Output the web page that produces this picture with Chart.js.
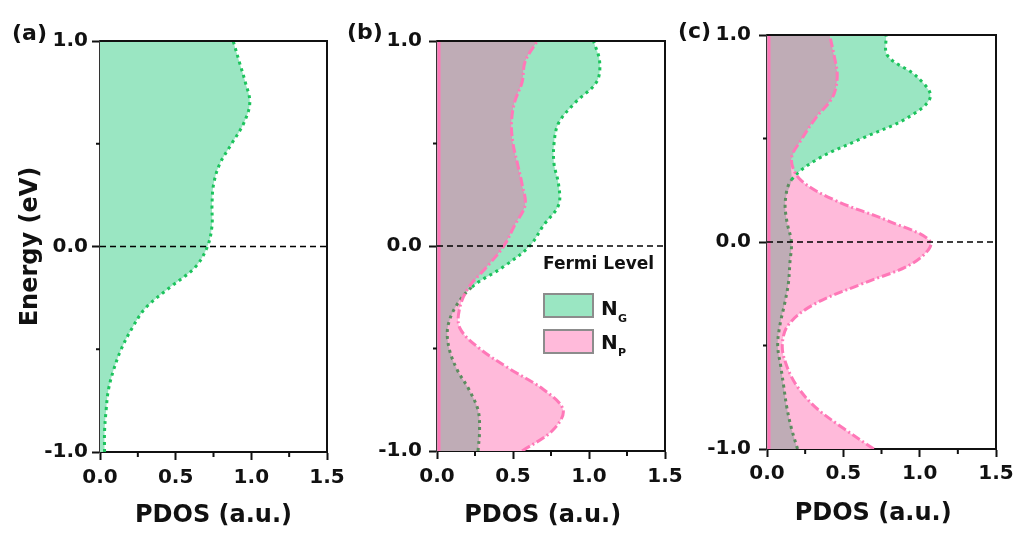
<!DOCTYPE html>
<html>
<head>
<meta charset="utf-8">
<script src="https://cdn.jsdelivr.net/npm/chart.js@4.4.1/dist/chart.umd.min.js"></script>
<style>
    body { margin: 0; background: #fff; width: 1015px; height: 534px; position: relative; overflow: hidden; font-family: 'DejaVu Sans', sans-serif; }
    canvas { position: absolute; top: 0; }
    .lbl { position: absolute; font-weight: bold; color: #111; white-space: nowrap; }
    .box { position: absolute; box-sizing: border-box; border: 2px solid #8c8c8c; width: 51px; height: 25px; }
</style>
</head>
<body>
<canvas id="chartA" width="351" height="534" style="left:0px"></canvas>
<canvas id="chartB" width="352" height="534" style="left:337px"></canvas>
<canvas id="chartC" width="353" height="534" style="left:667px"></canvas>

<div class="lbl" style="left:12px;top:22px;font-size:22px;line-height:22px">(a)</div>
<div class="lbl" style="left:347px;top:21px;font-size:22px;line-height:22px">(b)</div>
<div class="lbl" style="left:678px;top:20px;font-size:22px;line-height:22px">(c)</div>

<div class="lbl" style="left:543px;top:255px;font-size:17px;line-height:17px">Fermi Level</div>
<div class="box" style="left:543px;top:293px;background:#9ae6c2"></div>
<div class="box" style="left:543px;top:329px;background:#ffbada"></div>
<div class="lbl" style="left:601px;top:298px;font-size:20px;line-height:20px">N</div>
<div class="lbl" style="left:618px;top:313px;font-size:11px;line-height:11px">G</div>
<div class="lbl" style="left:601px;top:332px;font-size:20px;line-height:20px">N</div>
<div class="lbl" style="left:618px;top:347px;font-size:11px;line-height:11px">P</div>

<script>
// energy grid (eV), bottom to top
const energy = [-1.0, -0.9, -0.8, -0.7, -0.6, -0.5, -0.4, -0.3, -0.2, -0.1, 0.0,
                0.1, 0.2, 0.3, 0.4, 0.5, 0.6, 0.7, 0.8, 0.9, 1.0];

// PDOS
const greenA = [0.03, 0.03, 0.04, 0.055, 0.09, 0.14, 0.21, 0.30, 0.46, 0.63, 0.71,
                0.74, 0.74, 0.75, 0.79, 0.87, 0.95, 0.99, 0.96, 0.92, 0.88];

const greenB = [0.27, 0.28, 0.27, 0.21, 0.13, 0.08, 0.07, 0.12, 0.23, 0.44, 0.61,
                0.70, 0.80, 0.80, 0.77, 0.77, 0.80, 0.91, 1.05, 1.07, 1.03];
const pinkB  = [0.56, 0.76, 0.83, 0.70, 0.48, 0.28, 0.15, 0.15, 0.21, 0.33, 0.44,
                0.51, 0.58, 0.56, 0.53, 0.50, 0.49, 0.51, 0.56, 0.58, 0.66];

const greenC = [0.20, 0.16, 0.13, 0.11, 0.09, 0.07, 0.085, 0.115, 0.14, 0.15, 0.16,
                0.13, 0.12, 0.16, 0.33, 0.62, 0.92, 1.07, 0.98, 0.79, 0.78];
const pinkC  = [0.70, 0.50, 0.32, 0.20, 0.13, 0.10, 0.14, 0.31, 0.63, 0.96, 1.07,
                0.80, 0.45, 0.22, 0.16, 0.23, 0.32, 0.43, 0.46, 0.44, 0.41];

const fermiLevel = 0;
const xTickLabels = ['0.0', '0.5', '1.0', '1.5'];
const yTickLabels = ['-1.0', '0.0', '1.0'];

const greenFill = '#9ae6c2';
const pinkFill = '#ffbada';
const overlapFill = '#bfacb6';
const greenLine = '#1cc35c';
const greenLineDark = '#5b8c5e';
const pinkLine = '#ff78b8';
const axisColor = '#111';
const fontFamily = "'DejaVu Sans', sans-serif";

function pts(vals) {
    return vals.map((v, i) => ({ x: v, y: energy[i] }));
}

function isMajor(v) {
    return Math.abs(v * 2 - Math.round(v * 2)) < 1e-6;
}

function makeDatasets(green, pink) {
    const sets = [];
    if (pink) {
        sets.push({
            label: 'overlap',
            data: pts(green.map((g, i) => Math.min(g, pink[i]))),
            backgroundColor: overlapFill,
            borderWidth: 0,
            fill: 'origin'
        });
        sets.push({
            label: 'NP',
            data: pts(pink),
            backgroundColor: pinkFill,
            borderColor: pinkLine,
            borderWidth: 3,
            borderDash: [9, 3, 2, 3],
            fill: 'origin'
        });
    }
    sets.push({
        label: 'NG',
        data: pts(green),
        backgroundColor: greenFill,
        borderColor: greenLine,
        borderWidth: 3,
        borderDash: [3, 4],
        fill: 'origin',
        segment: {
            borderColor: ctx => {
                if (!pink) return greenLine;
                const i0 = ctx.p0DataIndex, i1 = ctx.p1DataIndex;
                return (green[i0] + green[i1]) < (pink[i0] + pink[i1]) ? greenLineDark : greenLine;
            }
        }
    });
    return sets;
}

const framePlugin = {
    id: 'frame',
    afterDatasetsDraw(chart, args, opts) {
        const { ctx, chartArea: a, scales: { x, y } } = chart;
        ctx.save();
        if (opts.pinkEdge) {
            const px = x.getPixelForValue(0) + 2;
            ctx.strokeStyle = pinkLine;
            ctx.lineWidth = 3;
            ctx.beginPath();
            ctx.moveTo(px, a.top);
            ctx.lineTo(px, a.bottom);
            ctx.stroke();
        }
        // Fermi level
        const fy = y.getPixelForValue(fermiLevel);
        ctx.setLineDash([6, 4]);
        ctx.strokeStyle = '#000';
        ctx.lineWidth = 1.5;
        ctx.beginPath();
        ctx.moveTo(a.left, fy);
        ctx.lineTo(a.right, fy);
        ctx.stroke();
        ctx.setLineDash([]);
        // top and right frame
        ctx.strokeStyle = axisColor;
        ctx.lineWidth = 2;
        ctx.beginPath();
        ctx.moveTo(a.left, a.top);
        ctx.lineTo(a.right, a.top);
        ctx.lineTo(a.right, a.bottom + 1);
        ctx.stroke();
        // minor ticks
        ctx.beginPath();
        [-0.5, 0.5].forEach(v => {
            const py = y.getPixelForValue(v);
            ctx.moveTo(a.left - 4, py);
            ctx.lineTo(a.left, py);
        });
        [0.25, 0.75, 1.25].forEach(v => {
            const px = x.getPixelForValue(v);
            ctx.moveTo(px, a.bottom);
            ctx.lineTo(px, a.bottom + 5);
        });
        ctx.stroke();
        ctx.restore();
    }
};

function makeChart(id, green, pink, cfg) {
    const tickFont = { family: fontFamily, size: 20, weight: 'bold' };
    const titleFont = { family: fontFamily, size: 24, weight: 'bold' };
    return new Chart(document.getElementById(id), {
        type: 'line',
        data: { datasets: makeDatasets(green, pink) },
        plugins: [framePlugin],
        options: {
            responsive: false,
            animation: false,
            indexAxis: 'y',
            layout: { padding: { left: 0, right: cfg.padRight, top: cfg.padTop, bottom: 0 } },
            elements: {
                point: { radius: 0 },
                line: { tension: 0.35 }
            },
            plugins: {
                legend: { display: false },
                tooltip: { enabled: false },
                filler: { drawTime: 'beforeDatasetsDraw' },
                frame: { pinkEdge: !!pink }
            },
            scales: {
                x: {
                    type: 'linear',
                    position: 'bottom',
                    min: 0,
                    max: 1.5,
                    z: 1,
                    border: { color: axisColor, width: 2 },
                    grid: {
                        drawOnChartArea: false,
                        tickLength: 8,
                        tickWidth: 2,
                        tickColor: ctx => (ctx.tick && isMajor(ctx.tick.value)) ? axisColor : 'transparent'
                    },
                    ticks: {
                        stepSize: 0.25,
                        autoSkip: false,
                        maxRotation: 0,
                        padding: cfg.xTickPad,
                        color: axisColor,
                        font: tickFont,
                        callback: v => isMajor(v) ? xTickLabels[Math.round(v * 2)] : ''
                    },
                    title: {
                        display: true,
                        text: cfg.xTitle,
                        color: axisColor,
                        font: titleFont,
                        padding: { top: 0, bottom: cfg.xTitlePad }
                    },
                    afterFit: s => { s.height = cfg.xHeight; }
                },
                y: {
                    type: 'linear',
                    position: 'left',
                    min: -1,
                    max: 1,
                    z: 1,
                    border: { color: '#333', width: 1.5, dash: [6, 4] },
                    grid: {
                        drawOnChartArea: false,
                        tickLength: 8,
                        tickWidth: 2,
                        tickColor: ctx => (ctx.tick && Number.isInteger(ctx.tick.value)) ? axisColor : 'transparent'
                    },
                    ticks: {
                        stepSize: 0.5,
                        autoSkip: false,
                        padding: cfg.yTickPad,
                        color: axisColor,
                        font: tickFont,
                        callback: v => Number.isInteger(v) ? yTickLabels[v + 1] : ''
                    },
                    title: {
                        display: cfg.yTitle !== '',
                        text: cfg.yTitle,
                        color: axisColor,
                        font: titleFont,
                        padding: { top: 16, bottom: 0 }
                    },
                    afterFit: s => { s.width = 100; }
                }
            }
        }
    });
}

makeChart('chartA', greenA, null, {
    padRight: 24, padTop: 41, xHeight: 82, xTickPad: 6, xTitlePad: 4, yTickPad: 4,
    xTitle: 'PDOS (a.u.)', yTitle: 'Energy (eV)'
});
makeChart('chartB', greenB, pinkB, {
    padRight: 24, padTop: 41, xHeight: 83, xTickPad: 6, xTitlePad: 4, yTickPad: 7,
    xTitle: 'PDOS (a.u.)  ', yTitle: ''
});
makeChart('chartC', greenC, pinkC, {
    padRight: 24, padTop: 35, xHeight: 85, xTickPad: 5, xTitlePad: 6, yTickPad: 8,
    xTitle: 'PDOS (a.u.)  ', yTitle: ''
});
</script>
</body>
</html>
